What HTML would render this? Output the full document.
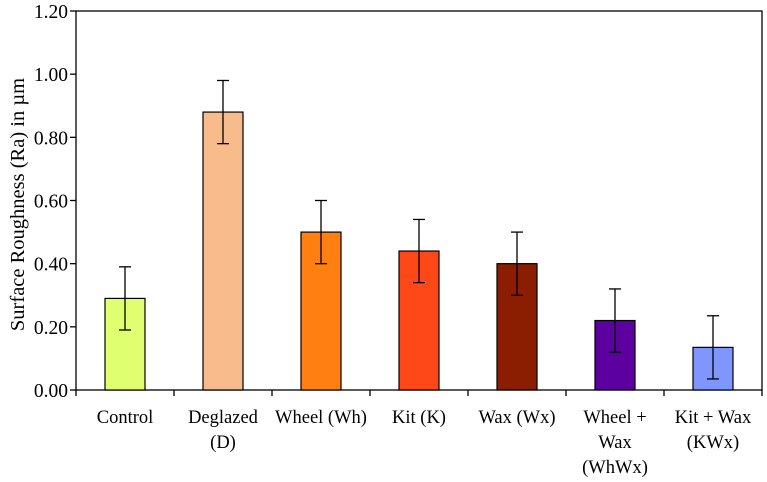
<!DOCTYPE html>
<html><head><meta charset="utf-8"><style>
html,body{margin:0;padding:0;background:#fff;}
svg text{font-family:"Liberation Serif",serif;fill:#000;}
</style></head><body>
<svg id="chart" width="767" height="477" xmlns="http://www.w3.org/2000/svg"></svg>
<script>
const categories = [["Control"],["Deglazed","(D)"],["Wheel (Wh)"],["Kit (K)"],["Wax (Wx)"],["Wheel +","Wax","(WhWx)"],["Kit + Wax","(KWx)"]];
const values = [0.29, 0.88, 0.50, 0.44, 0.40, 0.22, 0.135];
const errors = [0.10, 0.10, 0.10, 0.10, 0.10, 0.10, 0.10];
const colors = ["#e0ff70","#f8bb8c","#ff8010","#ff4818","#8b1e00","#5c00a0","#7f96ff"];
const yTicks = [0,0.2,0.4,0.6,0.8,1.0,1.2];
const yTickLabels = ["0.00","0.20","0.40","0.60","0.80","1.00","1.20"];

const svg = document.getElementById('chart');
const NS = "http://www.w3.org/2000/svg";
const L=76, R=762, T=11, B=390, yMax=1.2;
const y = v => B - v/yMax*(B-T);
const band = (R-L)/categories.length;
const xc = i => L + band*(i+0.5);
function mk(tag, attrs, parent){const e=document.createElementNS(NS,tag);for(const k in attrs)e.setAttribute(k,attrs[k]);(parent||svg).appendChild(e);return e;}

const frame = mk('rect',{x:L,y:T,width:R-L,height:B-T,fill:'none',stroke:'#000','stroke-width':1.3});



yTicks.forEach((t,i)=>{
  const ln = mk('line',{x1:L-6,x2:L,y1:y(t),y2:y(t),stroke:'#000','stroke-width':1.3});
  
  
  const tx = mk('text',{x:L-8,y:y(t)+7,'text-anchor':'end','font-size':19.5});
  tx.textContent = yTickLabels[i];
  
  
});
for(let i=0;i<=categories.length;i++){
  const ln = mk('line',{x1:L+band*i,x2:L+band*i,y1:B,y2:B+6,stroke:'#000','stroke-width':1.3});
  
  
}
const bw=40;
values.forEach((v,i)=>{
  const r = mk('rect',{x:xc(i)-bw/2,y:y(v),width:bw,height:B-y(v),fill:colors[i],stroke:'#000','stroke-width':1.2});
  
  
  const g = mk('g',{stroke:'#000','stroke-width':1.3});
  
  
  const hi=y(v+errors[i]), lo=y(v-errors[i]);
  mk('line',{x1:xc(i),x2:xc(i),y1:hi,y2:lo},g);
  mk('line',{x1:xc(i)-6,x2:xc(i)+6,y1:hi,y2:hi},g);
  mk('line',{x1:xc(i)-6,x2:xc(i)+6,y1:lo,y2:lo},g);
  categories[i].forEach((s,j)=>{
    const tx = mk('text',{x:xc(i),y:423+j*25,'text-anchor':'middle','font-size':18.5});
    tx.textContent = s;
    
    
  });
});
const yt = mk('text',{x:0,y:0,'text-anchor':'middle','font-size':20.5,transform:'translate(24,'+((T+B)/2+4)+') rotate(-90)'});
yt.textContent = 'Surface Roughness (Ra) in µm';


</script>
</body></html>
